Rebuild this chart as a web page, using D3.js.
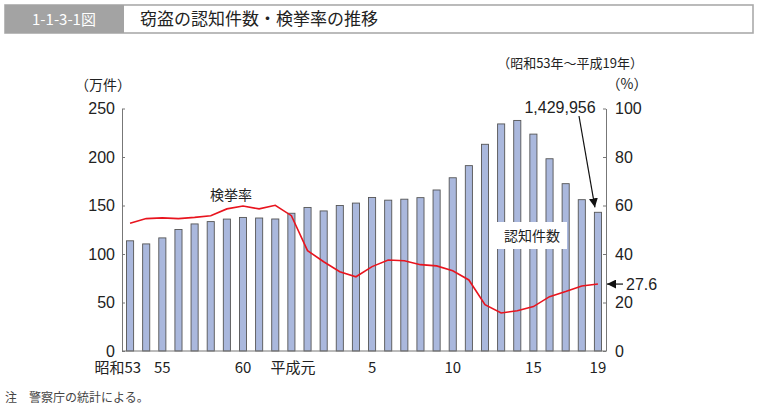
<!DOCTYPE html>
<html lang="ja">
<head>
<meta charset="UTF-8" />
<script src="https://d3js.org/d3.v7.min.js"></script>
<style>
  body { margin: 0; background: #fff; }
  svg text { font-family: "Liberation Sans", "Noto Sans CJK JP", sans-serif; fill: #222; }
  .jp { font-family: "Noto Sans CJK JP", sans-serif; }
</style>
</head>
<body>
<svg id="chart" width="758" height="409"></svg>
<script>
// years: 昭和53..63, 平成元..19
var years = ["S53","S54","S55","S56","S57","S58","S59","S60","S61","S62","S63",
  "H1","H2","H3","H4","H5","H6","H7","H8","H9","H10","H11","H12","H13","H14","H15","H16","H17","H18","H19"];
// 認知件数 (万件)
var cases = [113.6, 110.4, 116.6, 125.3, 131.0, 133.4, 136.0, 137.7, 137.1, 136.1, 142.0,
  148.0, 144.4, 150.0, 152.5, 158.3, 155.5, 156.5, 158.1, 166.0, 178.6, 191.1,
  213.1, 234.1, 237.7, 223.6, 198.2, 172.5, 156.0, 143.0];
// 検挙率 (%)
var rate = [52.7, 54.6, 54.9, 54.6, 55.1, 55.8, 58.6, 59.8, 58.6, 60.1, 55.8,
  41.4, 36.8, 32.7, 30.6, 34.8, 37.5, 37.2, 35.6, 35.1, 33.1, 29.3,
  19.1, 15.7, 16.6, 18.3, 22.4, 24.5, 26.8, 27.6];
var leftTicks = [0, 50, 100, 150, 200, 250];
var rightTicks = [0, 20, 40, 60, 80, 100];
var xLabels = [["S53", "昭和53"], ["S55", "55"], ["S60", "60"], ["H1", "平成元"],
  ["H5", "5"], ["H10", "10"], ["H15", "15"], ["H19", "19"]];

var svg = d3.select("#chart");
var plotL = 122, plotR = 606, plotT = 108.5, plotB = 351;

// header
svg.append("rect").attr("x", 5).attr("y", 5).attr("width", 748).attr("height", 28)
  .attr("fill", "#fff").attr("stroke", "#aaa").attr("stroke-width", 1.6);
svg.append("rect").attr("x", 5).attr("y", 5).attr("width", 119).attr("height", 28)
  .attr("fill", "#a3a3a3");
svg.append("text").attr("x", 64).attr("y", 25).attr("text-anchor", "middle")
  .attr("class", "jp").style("fill", "#fff").style("font-size", "15px").text("1-1-3-1図");
svg.append("text").attr("x", 140).attr("y", 25).attr("class", "jp")
  .style("font-size", "17px").text("窃盗の認知件数・検挙率の推移");

var x = d3.scaleBand().domain(years).range([plotL, plotR]).paddingInner(0.56).paddingOuter(0.28);
var yL = d3.scaleLinear().domain([0, 250]).range([plotB, plotT]);
var yR = d3.scaleLinear().domain([0, 100]).range([plotB, plotT]);

// bars
svg.append("g").selectAll("rect").data(cases).enter().append("rect")
  .attr("x", function(d, i) { return x(years[i]); })
  .attr("y", function(d) { return yL(d); })
  .attr("width", x.bandwidth())
  .attr("height", function(d) { return plotB - yL(d); })
  .attr("fill", "#aab8dd").attr("stroke", "#555").attr("stroke-width", 0.9);

// axes
var axL = svg.append("g").attr("transform", "translate(" + plotL + ",0)")
  .call(d3.axisLeft(yL).tickValues(leftTicks).tickSizeInner(-3).tickSizeOuter(0).tickPadding(7));
var axR = svg.append("g").attr("transform", "translate(" + plotR + ",0)")
  .call(d3.axisRight(yR).tickValues(rightTicks).tickSizeInner(-3).tickSizeOuter(0).tickPadding(9));
[axL, axR].forEach(function(a) {
  a.select(".domain").attr("stroke", "#777");
  a.selectAll(".tick line").attr("stroke", "#777");
  a.selectAll(".tick text").style("font-size", "16px").style("font-family", "Liberation Sans");
});
svg.append("line").attr("x1", plotL).attr("x2", plotR).attr("y1", plotB).attr("y2", plotB)
  .attr("stroke", "#777");

// x labels
svg.append("g").selectAll("text").data(xLabels).enter().append("text")
  .attr("x", function(d) { var c = x(d[0]) + x.bandwidth() / 2; return d[1].length > 2 ? c + (d[1] === "平成元" ? 8 : 11) : c; })
  .attr("y", 373)
  .attr("text-anchor", function(d) { return d[1].length > 2 ? "end" : "middle"; })
  .attr("class", "jp").style("font-size", "15px")
  .text(function(d) { return d[1]; });

// line
var line = d3.line().x(function(d, i) { return x(years[i]) + x.bandwidth() / 2; })
  .y(function(d) { return yR(d); });
svg.append("path").datum(rate).attr("d", line).attr("fill", "none")
  .attr("stroke", "#e8141e").attr("stroke-width", 1.6);

// unit labels
svg.append("text").attr("x", 103).attr("y", 90).attr("text-anchor", "middle").attr("class", "jp")
  .style("font-size", "14px").text("（万件）");
svg.append("text").attr("x", 627).attr("y", 89).attr("text-anchor", "middle").attr("class", "jp")
  .style("font-size", "14px").text("（%）");
svg.append("text").attr("x", 643).attr("y", 68).attr("text-anchor", "end").attr("class", "jp")
  .style("font-size", "13px").text("（昭和53年～平成19年）");

// annotations
svg.append("text").attr("x", 231).attr("y", 200).attr("text-anchor", "middle").attr("class", "jp")
  .style("font-size", "14px").text("検挙率");
svg.append("rect").attr("x", 497).attr("y", 222).attr("width", 70).attr("height", 27).attr("fill", "#fff");
svg.append("text").attr("x", 532).attr("y", 241).attr("text-anchor", "middle").attr("class", "jp")
  .style("font-size", "14px").text("認知件数");

var defs = svg.append("defs");
defs.append("marker").attr("id", "ah").attr("viewBox", "0 0 10 10").attr("refX", 10).attr("refY", 5)
  .attr("markerWidth", 9).attr("markerHeight", 9).attr("markerUnits", "userSpaceOnUse").attr("orient", "auto")
  .append("path").attr("d", "M0,0 L10,5 L0,10 Z").attr("fill", "#111");

var last = years.length - 1;
var lastX = x(years[last]) + x.bandwidth() / 2;
svg.append("text").attr("x", 560).attr("y", 113).attr("text-anchor", "middle")
  .style("font-size", "16px").text("1,429,956");
svg.append("line").attr("x1", 579).attr("y1", 116).attr("x2", lastX - 3).attr("y2", yL(cases[last]) - 5)
  .attr("stroke", "#111").attr("stroke-width", 1.2).attr("marker-end", "url(#ah)");
svg.append("line").attr("x1", 623).attr("y1", yR(rate[last])).attr("x2", plotR + 1).attr("y2", yR(rate[last]))
  .attr("stroke", "#111").attr("stroke-width", 1.2).attr("marker-end", "url(#ah)");
svg.append("text").attr("x", 626).attr("y", yR(rate[last]) + 6)
  .style("font-size", "16px").text("27.6");

// footnote
svg.append("text").attr("x", 5).attr("y", 402).attr("class", "jp")
  .style("font-size", "12px").style("fill", "#444").text("注　警察庁の統計による。");
</script>
</body>
</html>
